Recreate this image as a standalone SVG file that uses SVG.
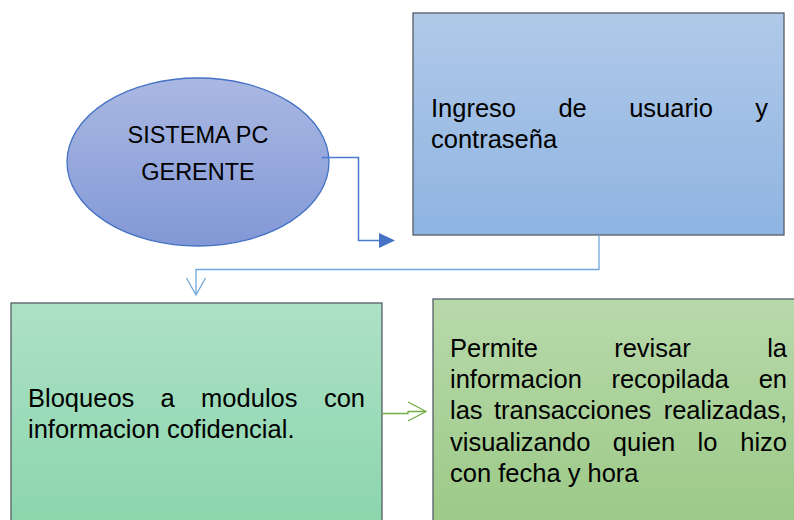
<svg xmlns="http://www.w3.org/2000/svg" width="794" height="520" viewBox="0 0 794 520">
<defs>
<linearGradient id="gEll" x1="0" y1="0" x2="0" y2="1"><stop offset="0" stop-color="#aab8e2"/><stop offset="1" stop-color="#8298d6"/></linearGradient>
<linearGradient id="gBlue" x1="0" y1="0" x2="0" y2="1"><stop offset="0" stop-color="#b0c9e8"/><stop offset="1" stop-color="#8fb4e2"/></linearGradient>
<linearGradient id="gGreen1" x1="0" y1="0" x2="0" y2="1"><stop offset="0" stop-color="#ade1c6"/><stop offset="1" stop-color="#8ad5ac"/></linearGradient>
<linearGradient id="gGreen2" x1="0" y1="0" x2="0" y2="1"><stop offset="0" stop-color="#b8d9ab"/><stop offset="1" stop-color="#9bc986"/></linearGradient>
</defs>
<style>
text{font-family:"Liberation Sans",Arial,sans-serif;font-size:25.5px;fill:#000}
.ell text{font-size:23.5px}
.box{stroke:#555e66;stroke-width:1.3}
.end{text-anchor:end}
.mid{text-anchor:middle}
</style>
<g id="node-sistema" class="ell">
<ellipse cx="198" cy="162" rx="131" ry="84" fill="url(#gEll)" stroke="#4472c4" stroke-width="1.3"/>
<text x="198" y="143" class="mid">SISTEMA PC</text>
<text x="198" y="180" class="mid">GERENTE</text>
</g>
<g id="node-ingreso">
<rect x="413" y="13" width="371" height="222" fill="url(#gBlue)" class="box"/>
<text x="431" y="117">Ingreso</text>
<text x="558.4" y="117">de</text>
<text x="629.2" y="117">usuario</text>
<text x="768" y="117" class="end">y</text>
<text x="431" y="148">contraseña</text>
</g>
<g id="node-bloqueos">
<rect x="11" y="303" width="371" height="230" fill="url(#gGreen1)" class="box"/>
<text x="28" y="407">Bloqueos</text>
<text x="160.6" y="407">a</text>
<text x="201.1" y="407">modulos</text>
<text x="365" y="407" class="end">con</text>
<text x="28" y="438">informacion cofidencial.</text>
</g>
<g id="node-permite">
<rect x="433" y="299" width="372" height="230" fill="url(#gGreen2)" class="box"/>
<text x="450" y="357">Permite</text>
<text x="614.2" y="357">revisar</text>
<text x="787" y="357" class="end">la</text>
<text x="450" y="388">informacion</text>
<text x="611.4" y="388">recopilada</text>
<text x="787" y="388" class="end">en</text>
<text x="450" y="419">las</text>
<text x="494" y="419">transacciones</text>
<text x="787" y="419" class="end">realizadas,</text>
<text x="450" y="451">visualizando</text>
<text x="612.8" y="451">quien</text>
<text x="697.6" y="451">lo</text>
<text x="787" y="451" class="end">hizo</text>
<text x="450" y="482">con fecha y hora</text>
</g>
<g id="connectors" fill="none">
<path d="M322 157.5 H358.5 V240.5 H380" stroke="#4a7bd0" stroke-width="1.5"/>
<path d="M379 233 L395 240.5 L379 248 Z" fill="#4472c4" stroke="none"/>
<path d="M599 235 V269.5 H196 V295" stroke="#6fa8dc" stroke-width="1.3"/>
<path d="M186.5 278 L196 295 L205.5 278" stroke="#6fa8dc" stroke-width="1.3"/>
<path d="M382 413.5 H408 V411.5 H425" stroke="#70ad47" stroke-width="1.3"/>
<path d="M408 402 L426 411.5 L408 421" stroke="#70ad47" stroke-width="1.3"/>
</g>
</svg>
